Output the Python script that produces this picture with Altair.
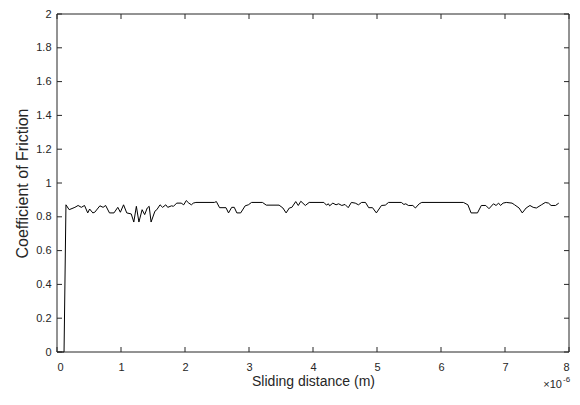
import altair as alt
import pandas as pd

# Sliding distance (in units of 1e-6 m) and coefficient of friction
distance = [0, 0.11, 0.14, 0.19, 0.28, 0.33, 0.38, 0.43, 0.48, 0.51, 0.56, 0.59, 0.67, 0.72, 0.76,
            0.82, 0.89, 0.95, 0.99, 1.04, 1.09, 1.16, 1.20, 1.24, 1.28, 1.33, 1.37, 1.41, 1.44, 1.47,
            1.53, 1.56, 1.61, 1.65, 1.70, 1.73, 1.79, 1.82, 1.87, 1.94, 1.98, 2.02, 2.06, 2.10, 2.13,
            2.17, 2.46, 2.49, 2.54, 2.64, 2.68, 2.73, 2.77, 2.81, 2.87, 2.94, 2.99, 3.04, 3.21, 3.27,
            3.47, 3.53, 3.58, 3.63, 3.67, 3.73, 3.77, 3.81, 3.88, 3.94, 4.17, 4.21, 4.24, 4.26, 4.31,
            4.36, 4.40, 4.45, 4.50, 4.55, 4.60, 4.66, 4.71, 4.76, 4.82, 4.87, 4.93, 4.99, 5.07, 5.13,
            5.18, 5.38, 5.42, 5.45, 5.49, 5.56, 5.60, 5.66, 5.70, 6.35, 6.42, 6.47, 6.57, 6.63, 6.70,
            6.75, 6.82, 6.86, 6.90, 6.93, 6.97, 7.02, 7.11, 7.15, 7.22, 7.27, 7.33, 7.39, 7.44, 7.49,
            7.57, 7.63, 7.68, 7.72, 7.79, 7.84]
friction = [0, 0, 0.871, 0.842, 0.856, 0.867, 0.856, 0.867, 0.823, 0.846, 0.823, 0.827, 0.865, 0.856, 0.867,
            0.823, 0.823, 0.856, 0.827, 0.871, 0.823, 0.817, 0.769, 0.862, 0.769, 0.842, 0.813, 0.852, 0.862, 0.769,
            0.833, 0.842, 0.871, 0.856, 0.871, 0.856, 0.865, 0.862, 0.881, 0.881, 0.871, 0.896, 0.881, 0.871, 0.881,
            0.885, 0.885, 0.890, 0.854, 0.854, 0.823, 0.856, 0.856, 0.823, 0.823, 0.865, 0.871, 0.885, 0.885, 0.869,
            0.869, 0.852, 0.823, 0.852, 0.856, 0.890, 0.867, 0.892, 0.867, 0.885, 0.885, 0.869, 0.877, 0.865, 0.881,
            0.871, 0.877, 0.867, 0.873, 0.854, 0.885, 0.881, 0.871, 0.885, 0.885, 0.854, 0.854, 0.823, 0.867, 0.869,
            0.885, 0.885, 0.873, 0.877, 0.867, 0.867, 0.852, 0.877, 0.885, 0.885, 0.871, 0.823, 0.823, 0.867, 0.867,
            0.848, 0.877, 0.867, 0.881, 0.867, 0.881, 0.885, 0.881, 0.871, 0.852, 0.823, 0.852, 0.867, 0.856, 0.852,
            0.871, 0.885, 0.881, 0.867, 0.867, 0.881]

x_ticks = [0, 1, 2, 3, 4, 5, 6, 7, 8]
y_ticks = [0, 0.2, 0.4, 0.6, 0.8, 1.0, 1.2, 1.4, 1.6, 1.8, 2.0]

W, H = 512, 338
AX = "#262626"
FONT = "Liberation Sans"

df = pd.DataFrame({"d": distance, "f": friction})
xt = pd.DataFrame({"d": x_ticks})
yt = pd.DataFrame({"f": y_ticks})

xscale = alt.Scale(domain=[0, 8], nice=False, zero=False)
yscale = alt.Scale(domain=[0, 2], nice=False, zero=False)
xaxis = alt.Axis(values=x_ticks, title="Sliding distance (m)", format="~g",
                 labelPadding=9, titlePadding=2, titleFontSize=14)
yaxis = alt.Axis(values=y_ticks, title="Coefficient of Friction", format="~g",
                 labelPadding=6, titlePadding=5, titleFontSize=16)

X = alt.X("d:Q", scale=xscale, axis=xaxis)
Y = alt.Y("f:Q", scale=yscale, axis=yaxis)

line = alt.Chart(df).mark_line(color="black", strokeWidth=1).encode(x=X, y=Y)

tick_style = dict(color=AX, strokeWidth=1)
bottom_ticks = alt.Chart(xt).mark_rule(**tick_style).encode(
    x=X, y=alt.value(H), y2=alt.value(H - 5))
top_ticks = alt.Chart(xt).mark_rule(**tick_style).encode(
    x=X, y=alt.value(0), y2=alt.value(5))
left_ticks = alt.Chart(yt).mark_rule(**tick_style).encode(
    y=Y, x=alt.value(0), x2=alt.value(5))
right_ticks = alt.Chart(yt).mark_rule(**tick_style).encode(
    y=Y, x=alt.value(W), x2=alt.value(W - 5))

box_df = pd.DataFrame({"k": [0]})
box = [
    alt.Chart(box_df).mark_rule(**tick_style).encode(x=alt.value(0), x2=alt.value(W), y=alt.value(0)),
    alt.Chart(box_df).mark_rule(**tick_style).encode(x=alt.value(0), x2=alt.value(W), y=alt.value(H)),
    alt.Chart(box_df).mark_rule(**tick_style).encode(y=alt.value(0), y2=alt.value(H), x=alt.value(0)),
    alt.Chart(box_df).mark_rule(**tick_style).encode(y=alt.value(0), y2=alt.value(H), x=alt.value(W)),
]

mult = alt.Chart(pd.DataFrame({"s": ["×10"]})).mark_text(
    align="right", baseline="middle", font=FONT, fontSize=11, color=AX).encode(
    text="s:N", x=alt.value(W - 7), y=alt.value(H + 33))
expo = alt.Chart(pd.DataFrame({"s": ["-6"]})).mark_text(
    align="left", baseline="middle", font=FONT, fontSize=8, color=AX).encode(
    text="s:N", x=alt.value(W - 6), y=alt.value(H + 28))

chart = alt.layer(line, bottom_ticks, top_ticks, left_ticks, right_ticks, *box, mult, expo).properties(
    width=W, height=H,
    autosize=alt.AutoSizeParams(type="none"),
    padding={"left": 49, "top": 6, "right": 2, "bottom": 40},
    background="white",
).configure_view(stroke=None).configure_axis(
    domain=False, grid=False, ticks=False,
    labelFont=FONT, labelFontSize=11, labelColor=AX,
    titleFont=FONT, titleFontSize=13, titleColor=AX, titleFontWeight="normal",
)

chart.save("out.html", embed_options={"renderer": "svg", "actions": False})
